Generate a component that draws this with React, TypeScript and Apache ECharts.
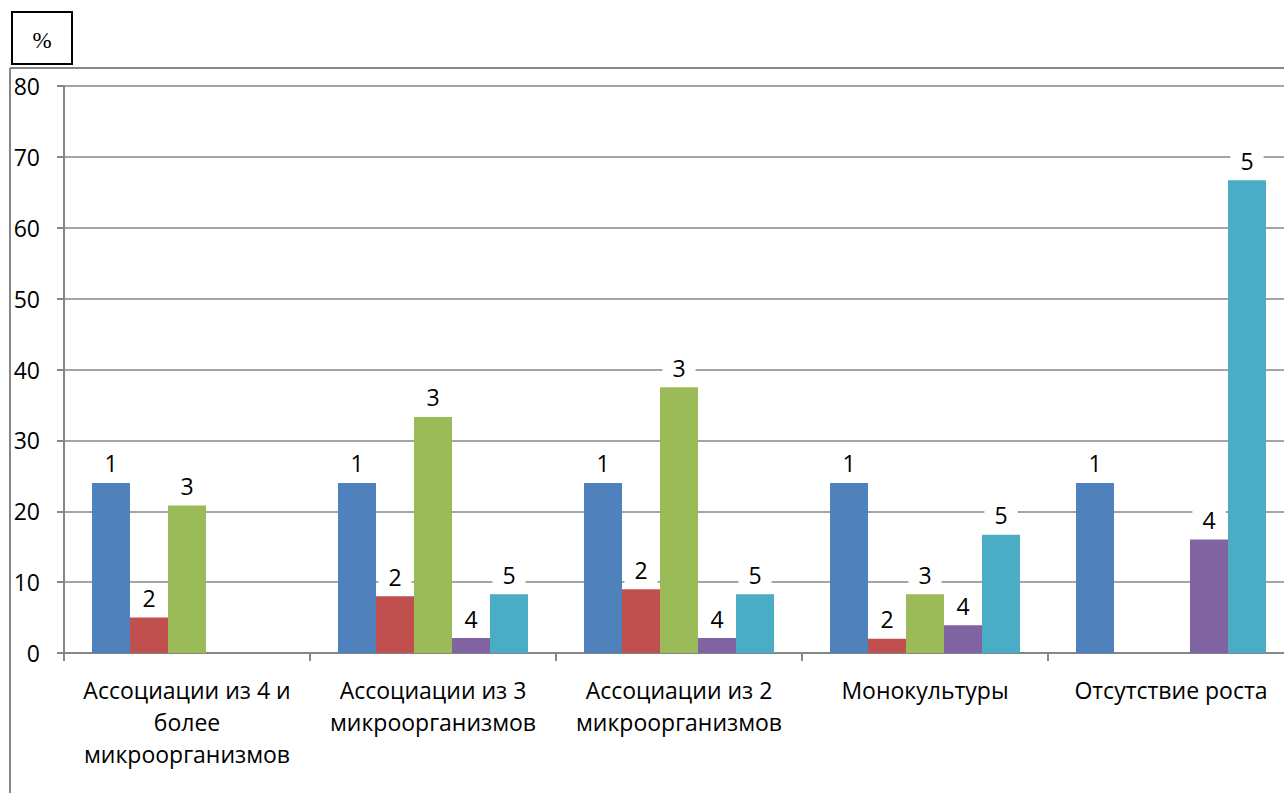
import React, { useEffect, useRef } from "react";
import * as echarts from "echarts";

// Categories (x axis), with explicit line breaks for the tick labels
const categories = [
  "Ассоциации из 4 и\nболее\nмикроорганизмов",
  "Ассоциации из 3\nмикроорганизмов",
  "Ассоциации из 2\nмикроорганизмов",
  "Монокультуры",
  "Отсутствие роста",
];

// Series names, shown as bar labels
const seriesNames = ["1", "2", "3", "4", "5"];

// Values, % (null = no bar)
const values1 = [24, 24, 24, 24, 24];
const values2 = [5, 8, 9, 2, null];
const values3 = [20.8, 33.3, 37.5, 8.3, null];
const values4 = [null, 2.1, 2.1, 3.9, 16];
const values5 = [null, 8.3, 8.3, 16.7, 66.7];

const seriesValues = [values1, values2, values3, values4, values5];
const colors = ["#4F81BD", "#C0504D", "#9BBB59", "#8064A2", "#4BACC6"];

const FONT = "'Open Sans', 'Noto Sans', sans-serif";
const GRAY = "#868686";

// The plot runs slightly past the right edge of the visible page
const CHART_W = 1300;
const CHART_H = 793;

export default function App() {
  const ref = useRef<HTMLDivElement>(null);

  useEffect(() => {
    if (!ref.current) return;
    const chart = echarts.init(ref.current, null, { renderer: "svg" });
    chart.setOption({
      animation: false,
      backgroundColor: "#fff",
      grid: { left: 64, top: 86, right: 6, bottom: 140, containLabel: false },
      xAxis: {
        type: "category",
        data: categories,
        axisLine: { show: true, lineStyle: { color: GRAY, width: 2 } },
        axisTick: { show: true, length: 8, lineStyle: { color: GRAY, width: 2 } },
        axisLabel: {
          interval: 0,
          margin: 21,
          fontSize: 23,
          lineHeight: 32,
          fontFamily: FONT,
          color: "#000",
          align: "center",
        },
      },
      yAxis: {
        type: "value",
        min: 0,
        max: 80,
        interval: 10,
        axisLine: { show: true, lineStyle: { color: GRAY, width: 2 } },
        axisTick: { show: true, length: 7, lineStyle: { color: GRAY, width: 2 } },
        splitLine: { show: true, lineStyle: { color: GRAY, width: 1.5 } },
        axisLabel: {
          margin: 24,
          fontSize: 23,
          fontFamily: FONT,
          color: "#000",
        },
      },
      series: seriesValues.map((vals, i) => ({
        name: seriesNames[i],
        type: "bar",
        data: vals.map((v) => (v === null ? "-" : v)),
        barWidth: 38,
        barGap: "0%",
        itemStyle: { color: colors[i] },
        label: {
          show: true,
          position: "top",
          distance: 6,
          formatter: () => seriesNames[i],
          fontSize: 23,
          fontFamily: FONT,
          color: "#000",
          backgroundColor: "#fff",
          padding: [2, 10],
        },
      })),
      graphic: [
        {
          type: "line",
          shape: { x1: 10, y1: 68, x2: CHART_W, y2: 68 },
          style: { stroke: GRAY, lineWidth: 2 },
        },
        {
          type: "line",
          shape: { x1: 10, y1: 68, x2: 10, y2: CHART_H },
          style: { stroke: GRAY, lineWidth: 2 },
        },
        {
          type: "rect",
          shape: { x: 12, y: 12, width: 60, height: 52 },
          style: { fill: "#fff", stroke: "#000", lineWidth: 2 },
        },
        {
          type: "text",
          x: 42,
          y: 40,
          style: {
            text: "%",
            fontSize: 23,
            fontFamily: "'Liberation Serif', serif",
            fill: "#000",
            align: "center",
            verticalAlign: "middle",
          },
        },
      ],
    });
    return () => chart.dispose();
  }, []);

  return (
    <div
      style={{
        position: "fixed",
        left: 0,
        top: 0,
        width: 1284,
        height: 793,
        overflow: "hidden",
        background: "#fff",
      }}
    >
      <div ref={ref} style={{ width: CHART_W, height: CHART_H }} />
    </div>
  );
}
